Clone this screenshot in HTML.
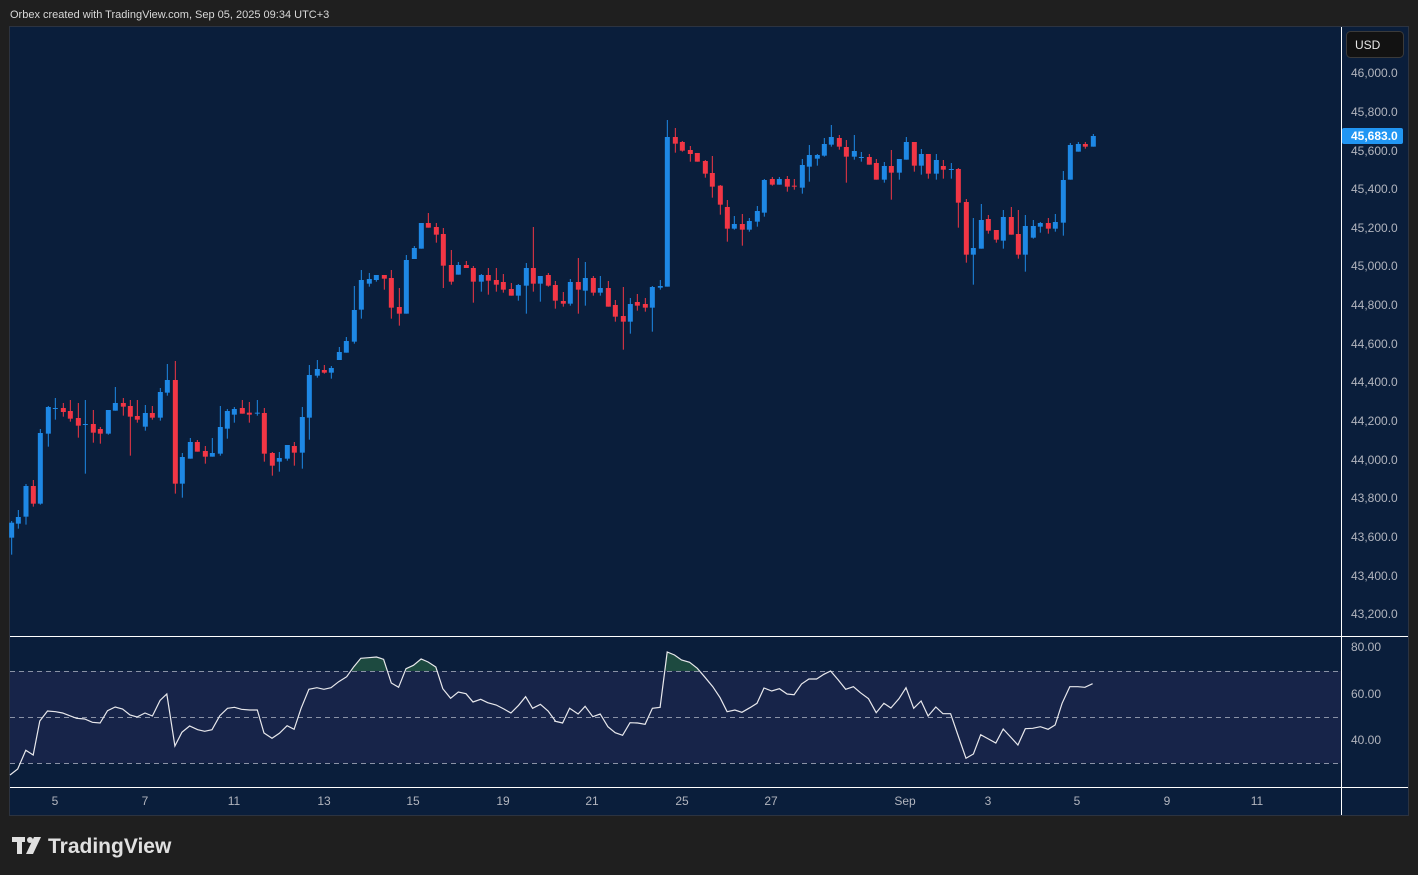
<!DOCTYPE html>
<html><head><meta charset="utf-8"><style>
html,body{margin:0;padding:0;background:#1f1f1f;width:1418px;height:875px;overflow:hidden;font-family:"Liberation Sans",sans-serif}
svg{position:absolute;left:0;top:0}
</style></head><body>
<svg id="s" width="1418" height="875" xmlns="http://www.w3.org/2000/svg">
<rect x="0" y="0" width="1418" height="875" fill="#1f1f1f"/>
<text x="10" y="18" fill="#d8d8d8" font-size="11">Orbex created with TradingView.com, Sep 05, 2025 09:34 UTC+3</text>
<rect x="9.5" y="26.5" width="1399" height="789" fill="#0a1e3b" stroke="#2c3340"/>
<rect x="10" y="671" width="1331" height="92" fill="#172449"/>
<g stroke="#8a92a6" stroke-dasharray="5,4" stroke-width="1">
<line x1="10" y1="671.5" x2="1341" y2="671.5"/><line x1="10" y1="717.5" x2="1341" y2="717.5"/><line x1="10" y1="763.5" x2="1341" y2="763.5"/></g>
<g id="c"></g>
<g id="r"></g>
<line x1="10" y1="636.5" x2="1408" y2="636.5" stroke="#ffffff"/>
<line x1="10" y1="787.5" x2="1408" y2="787.5" stroke="#ffffff"/>
<line x1="1341.5" y1="27" x2="1341.5" y2="815" stroke="#ffffff"/>
<g fill="#b2b5be" font-size="12">
<text x="1351" y="77">46,000.0</text><text x="1351" y="116">45,800.0</text><text x="1351" y="155">45,600.0</text>
<text x="1351" y="193">45,400.0</text><text x="1351" y="232">45,200.0</text><text x="1351" y="270">45,000.0</text>
<text x="1351" y="309">44,800.0</text><text x="1351" y="348">44,600.0</text><text x="1351" y="386">44,400.0</text>
<text x="1351" y="425">44,200.0</text><text x="1351" y="464">44,000.0</text><text x="1351" y="502">43,800.0</text>
<text x="1351" y="541">43,600.0</text><text x="1351" y="580">43,400.0</text><text x="1351" y="618">43,200.0</text>
<text x="1351" y="651">80.00</text><text x="1351" y="698">60.00</text><text x="1351" y="744">40.00</text>
</g>
<rect x="1346.5" y="31.5" width="57" height="26" rx="4" fill="#121212" stroke="#3a3a3a"/>
<text x="1355" y="49" fill="#e8e8e8" font-size="12">USD</text>
<rect x="1342" y="128" width="61" height="16" rx="2" fill="#2196f3"/>
<text x="1351" y="140" fill="#ffffff" font-size="12" font-weight="bold">45,683.0</text>
<g fill="#b2b5be" font-size="12" text-anchor="middle">
<text x="55" y="805">5</text><text x="145" y="805">7</text><text x="234" y="805">11</text><text x="324" y="805">13</text>
<text x="413" y="805">15</text><text x="503" y="805">19</text><text x="592" y="805">21</text><text x="682" y="805">25</text>
<text x="771" y="805">27</text><text x="905" y="805">Sep</text><text x="988" y="805">3</text><text x="1077" y="805">5</text>
<text x="1167" y="805">9</text><text x="1257" y="805">11</text></g>
<g fill="#e0e0e0"><rect x="12" y="837" width="13" height="5"/><rect x="17" y="837" width="5" height="17"/>
<circle cx="30" cy="840" r="3"/><polygon points="34,837 41,837 33,854 26,854"/></g>
<text x="48" y="853" fill="#e0e0e0" font-size="21" font-weight="bold">TradingView</text>
</svg>
<script>
var C=[
[5,350,[[20,518,563,513,614,'b'],[40,501,521,480,536,'b'],[63,408,500,402,524,'b'],[85,408,461,390,470,'r'],[106,249,461,237,464,'b'],[130,171,251,168,290,'b'],[151,174,176,144,209,'b'],[175,174,186,159,200,'r'],[196,183,206,150,215,'r'],[220,204,227,159,263,'r'],[241,222,224,150,371,'b'],[265,222,248,180,278,'r'],[286,237,251,231,281,'r'],[310,180,251,180,254,'b'],[331,159,182,111,182,'b'],[355,159,170,144,197,'r'],[376,168,200,150,317,'r'],[397,198,209,150,218,'r'],[421,189,230,165,242,'b'],[442,189,203,168,209,'r'],[466,126,203,114,212,'b'],[487,90,128,42,137,'b'],[511,90,401,33,431,'r'],[532,321,401,309,443,'b'],[556,276,326,264,326,'b'],[577,276,305,270,305,'r'],[601,303,320,288,341,'r'],[622,309,320,264,320,'b'],[646,231,311,168,317,'b'],[667,183,236,177,266,'b'],[688,177,194,171,218,'b'],[712,174,191,150,191,'r'],[733,188,194,156,218,'r'],[757,188,190,150,197,'b'],[778,189,311,174,335,'r'],[802,309,347,306,377,'r'],[823,324,335,306,365,'b'],[847,285,326,285,332,'b'],[868,288,308,276,347,'r'],[892,201,308,171,356,'b'],[913,75,203,45,269,'b'],[937,57,77,30,83,'b'],[958,60,68,45,71,'r'],[979,54,68,48,86,'b']]],
[330,200,[[28,456,480,441,480,'b'],[49,423,458,411,458,'b'],[73,330,425,258,431,'b'],[94,240,329,210,356,'b'],[118,237,251,219,260,'b'],[139,225,240,225,245,'b'],[163,225,236,225,269,'r'],[184,234,323,210,356,'r'],[208,321,341,264,377,'r'],[229,180,341,165,341,'b'],[253,144,177,138,177,'b'],[274,69,146,69,146,'b'],[295,69,83,39,83,'r'],[319,81,104,69,128,'r'],[340,102,197,84,264,'r'],[364,195,245,150,254,'r'],[385,195,224,186,224,'b'],[409,195,204,183,204,'r'],[430,204,245,198,308,'r'],[454,225,245,222,275,'b'],[475,225,242,204,284,'r'],[499,240,254,204,275,'r'],[520,246,269,222,278,'r'],[544,267,287,249,287,'r'],[565,255,287,252,302,'b'],[589,204,257,189,341,'b'],[610,204,251,81,275,'r'],[631,228,251,228,305,'b'],[655,225,257,219,260,'r'],[676,255,302,243,326,'r'],[700,303,311,276,320,'r'],[721,246,311,237,317,'b'],[745,246,269,174,341,'r'],[766,234,272,186,317,'b'],[790,234,278,228,287,'r'],[811,264,278,228,287,'b'],[835,264,320,243,320,'r'],[856,315,350,300,365,'r'],[880,348,365,261,449,'r'],[901,312,365,294,401,'b'],[922,306,317,282,332,'r'],[946,312,323,294,335,'r'],[967,261,323,258,395,'b'],[991,258,263,240,269,'b']]],
[655,115,[[37,66,515,15,515,'b'],[61,66,86,39,113,'r'],[82,81,107,78,110,'r'],[106,105,117,93,140,'r'],[127,114,140,114,140,'r'],[151,138,176,135,188,'r'],[172,174,215,123,248,'r'],[196,212,269,210,299,'r'],[217,276,341,255,380,'r'],[238,327,341,303,344,'b'],[262,327,344,297,392,'r'],[283,318,344,309,350,'b'],[307,288,320,273,335,'b'],[328,195,293,192,305,'b'],[352,192,209,186,212,'r'],[373,192,209,186,209,'b'],[397,192,215,183,230,'r'],[418,212,214,192,224,'r'],[442,150,218,132,236,'b'],[463,120,155,90,200,'b'],[487,120,131,117,152,'b'],[508,87,122,69,125,'b'],[529,66,89,30,95,'b'],[553,69,95,60,104,'r'],[574,96,125,75,203,'r'],[598,108,125,60,134,'b'],[619,126,128,111,140,'b'],[643,126,149,117,149,'r'],[664,144,194,132,194,'r'],[688,153,194,141,203,'b'],[709,153,173,105,254,'r'],[733,132,173,132,194,'b'],[754,81,134,66,134,'b'],[778,81,152,81,170,'r'],[799,117,152,102,179,'b'],[820,117,176,117,191,'r'],[844,135,176,117,194,'b'],[865,153,164,135,191,'r'],[889,162,164,144,191,'b'],[910,162,263,159,338,'r'],[934,261,419,252,443,'r'],[955,399,419,309,509,'b'],[979,315,401,267,401,'b'],[1000,312,347,300,356,'r'],[1024,345,374,345,383,'r'],[1045,306,377,285,401,'b'],[1069,306,359,276,359,'r'],[1090,357,419,285,431,'r'],[1111,333,419,300,470,'b'],[1135,333,368,315,371,'b'],[1156,324,335,321,353,'b'],[1180,324,341,309,356,'r'],[1201,321,341,297,350,'b'],[1225,195,323,168,362,'b'],[1246,90,194,84,194,'b'],[1270,87,110,81,110,'b'],[1291,87,95,81,101,'r'],[1315,63,95,57,95,'b']]]];
var h='';
C.forEach(function(g){var ox=g[0],oy=g[1];g[2].forEach(function(k){
var x=ox+k[0]/3,t=oy+k[1]/3,b=oy+k[2]/3,hi=oy+k[3]/3,lo=oy+k[4]/3,col=k[5]=='b'?'#1e88e5':'#f23645';
if(b-t<1)b=t+1;
h+='<line x1="'+x+'" x2="'+x+'" y1="'+hi+'" y2="'+lo+'" stroke="'+col+'" stroke-width="1"/>';
h+='<rect x="'+(x-2.5)+'" y="'+t+'" width="5" height="'+(b-t)+'" fill="'+col+'"/>';});});
document.getElementById('c').innerHTML=h;
var R1=[[0,390],[22,372],[45,316],[66,330],[85,228],[107,198],[130,200],[150,204],[170,212],[190,220],[213,222],[235,232],[257,234],[278,197],[300,186],[321,192],[342,210],[362,216],[385,204],[406,213],[428,166],[447,147],[470,303],[490,262],[512,243],[535,254],[555,259],[576,254],[598,212],[620,190],[640,187],[660,193],[683,195],[705,195],[724,264],[747,280],[768,265],[790,242],[810,253],[830,190],[852,133],[875,128],[895,133],[915,128],[937,110],[960,95],[980,65],[1000,40],[1022,38],[1045,36],[1065,43],[1087,114],[1108,127],[1129,71],[1150,61],[1172,42],[1192,51],[1214,66],[1234,131],[1256,160],[1278,141],[1300,146],[1320,171],[1342,163],[1362,173],[1386,180],[1408,192],[1428,204],[1450,181],[1470,155],[1490,190],[1512,178],[1534,198],[1555,228]];
var R2=[[12,228],[36,234],[56,190],[80,207],[100,184],[122,215],[143,207],[165,245],[186,263],[207,271],[228,233],[250,234],[271,238],[292,190],[314,187],[334,21],[355,30],[375,45],[398,52],[420,70],[442,97],[464,125],[485,158],[505,200],[527,195],[547,202],[570,188],[590,175],[610,129],[632,138],[654,131],[676,147],[696,149],[717,117],[738,102],[760,102],[781,88],[800,78],[822,105],[843,133],[865,125],[885,143],[908,161],[930,203],[952,175],[972,189],[995,161],[1015,128],[1037,190],[1058,168],[1078,213],[1100,186],[1120,206],[1142,206],[1163,270],[1186,340],[1207,327],[1228,269],[1250,282],[1271,294],[1292,252],[1313,276],[1334,300],[1355,251],[1376,250],[1398,245],[1420,253],[1440,240],[1460,175],[1482,125],[1505,125],[1525,127],[1547,116]];
var S=550/1568;
var P=[];R1.forEach(function(p){P.push((10+p[0]*S).toFixed(1)+','+(645+p[1]/3).toFixed(1));});
R2.forEach(function(p){P.push((550+p[0]*S).toFixed(1)+','+(645+p[1]/3).toFixed(1));});
var pts=P.join(' ');
var first=P[0].split(','),last=P[P.length-1].split(',');
var r='<defs><clipPath id="ob"><rect x="10" y="637" width="1331" height="34"/></clipPath></defs>';
r+='<polygon clip-path="url(#ob)" points="'+first[0]+',800 '+pts+' '+last[0]+',800" fill="#1d4a40"/>';
r+='<polyline points="'+pts+'" fill="none" stroke="#e8e8ec" stroke-width="1.2"/>';
document.getElementById('r').innerHTML=r;
</script>
</body></html>
